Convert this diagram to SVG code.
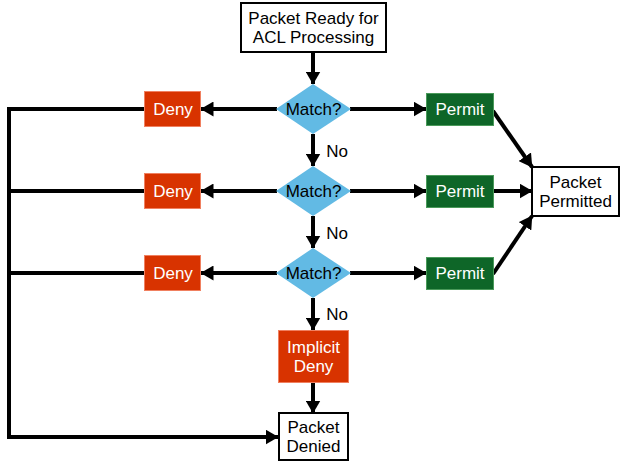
<svg xmlns="http://www.w3.org/2000/svg" width="624" height="469" viewBox="0 0 624 469">
<style>
text{font-family:"Liberation Sans",Arial,sans-serif;font-size:17px;text-anchor:middle}
.box{fill:#fff;stroke:#000;stroke-width:2}
.deny{fill:#d83300;stroke:#f08060;stroke-width:1}
.permit{fill:#0e6628;stroke:#4a9a5a;stroke-width:1}
.dia{fill:#62bae4}
.w{fill:#fff}
.ln{stroke:#000;stroke-width:4;fill:none}
</style>
<defs>
<marker id="ah" markerWidth="13" markerHeight="15" viewBox="0 0 13 15" refX="12.5" refY="7.5" orient="auto" markerUnits="userSpaceOnUse">
<path d="M0,0 L13,7.5 L0,15 Z" fill="#000"/>
</marker>
</defs>
<rect width="624" height="469" fill="#fff"/>
<g id="connectors">
<line class="ln" x1="313" y1="52" x2="313" y2="84" marker-end="url(#ah)"/>
<line class="ln" x1="313" y1="134" x2="313" y2="166" marker-end="url(#ah)"/>
<line class="ln" x1="313" y1="216" x2="313" y2="248" marker-end="url(#ah)"/>
<line class="ln" x1="313" y1="298" x2="313" y2="330" marker-end="url(#ah)"/>
<line class="ln" x1="313" y1="382" x2="313" y2="413" marker-end="url(#ah)"/>
<line class="ln" x1="277" y1="109" x2="201" y2="109" marker-end="url(#ah)"/>
<line class="ln" x1="277" y1="191" x2="201" y2="191" marker-end="url(#ah)"/>
<line class="ln" x1="277" y1="273" x2="201" y2="273" marker-end="url(#ah)"/>
<line class="ln" x1="350" y1="109" x2="426" y2="109" marker-end="url(#ah)"/>
<line class="ln" x1="350" y1="191" x2="426" y2="191" marker-end="url(#ah)"/>
<line class="ln" x1="350" y1="273" x2="426" y2="273" marker-end="url(#ah)"/>
<line class="ln" x1="493" y1="111" x2="532" y2="167" marker-end="url(#ah)"/>
<line class="ln" x1="493" y1="191" x2="532" y2="191" marker-end="url(#ah)"/>
<line class="ln" x1="493" y1="274" x2="532" y2="216" marker-end="url(#ah)"/>
<path class="ln" d="M144,109 H9 V437 H278" marker-end="url(#ah)"/>
<line class="ln" x1="144" y1="191" x2="9" y2="191"/>
<line class="ln" x1="144" y1="273" x2="9" y2="273"/>
</g>
<g id="start">
<rect class="box" x="241" y="3" width="145" height="49"/>
<text x="313.5" y="24">Packet Ready for</text>
<text x="313.5" y="43">ACL Processing</text>
</g>
<g id="match1">
<path class="dia" d="M313,84 L351,109 L313,134 L276,109 Z"/>
<text x="313.5" y="115">Match?</text>
</g>
<g id="match2">
<path class="dia" d="M313,166 L351,191 L313,216 L276,191 Z"/>
<text x="313.5" y="197">Match?</text>
</g>
<g id="match3">
<path class="dia" d="M313,248 L351,273 L313,298 L276,273 Z"/>
<text x="313.5" y="279">Match?</text>
</g>
<g id="no-labels">
<text x="337" y="157">No</text>
<text x="337" y="239">No</text>
<text x="337" y="320">No</text>
</g>
<g id="deny1">
<rect class="deny" x="144.5" y="91.5" width="56" height="35"/>
<text class="w" x="173" y="115">Deny</text>
</g>
<g id="deny2">
<rect class="deny" x="144.5" y="173.5" width="56" height="35"/>
<text class="w" x="173" y="197">Deny</text>
</g>
<g id="deny3">
<rect class="deny" x="144.5" y="255.5" width="56" height="35"/>
<text class="w" x="173" y="279">Deny</text>
</g>
<g id="permit1">
<rect class="permit" x="426.5" y="93.5" width="67" height="32"/>
<text class="w" x="460" y="115">Permit</text>
</g>
<g id="permit2">
<rect class="permit" x="426.5" y="175.5" width="67" height="32"/>
<text class="w" x="460" y="197">Permit</text>
</g>
<g id="permit3">
<rect class="permit" x="426.5" y="257.5" width="67" height="32"/>
<text class="w" x="460" y="279">Permit</text>
</g>
<g id="permitted">
<rect class="box" x="532" y="167" width="87" height="49"/>
<text x="575.5" y="188">Packet</text>
<text x="575.5" y="207">Permitted</text>
</g>
<g id="implicit">
<rect class="deny" x="278.5" y="330.5" width="70" height="52"/>
<text class="w" x="313.5" y="353">Implicit</text>
<text class="w" x="313.5" y="372">Deny</text>
</g>
<g id="denied">
<rect class="box" x="279" y="413" width="69" height="47"/>
<text x="313.5" y="433">Packet</text>
<text x="313.5" y="452">Denied</text>
</g>
</svg>
